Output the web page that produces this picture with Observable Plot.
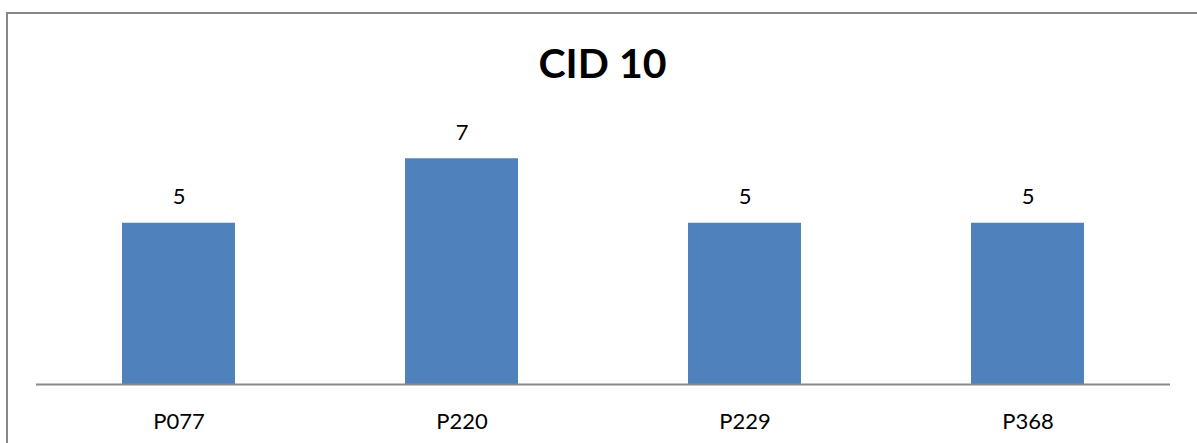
<!DOCTYPE html>
<html>
<head>
<meta charset="utf-8">
<script src="https://cdn.jsdelivr.net/npm/d3@7"></script>
<script src="https://cdn.jsdelivr.net/npm/@observablehq/plot@0.6"></script>
<style>
  html, body { margin: 0; padding: 0; background: #fff; overflow: hidden; width: 1197px; height: 443px; }
  #wrap { position: relative; width: 1197px; height: 443px; }
  #border { position: absolute; left: 6px; top: 12px; width: 1300px; height: 600px;
            border-left: 2px solid #878787; border-top: 2px solid #878787; }
  #title { position: absolute; left: 4px; top: 42px; width: 1197px; text-align: center;
           font-family: Lato, sans-serif; font-weight: bold; font-size: 41px; line-height: 1; color: #000; }
  #chart { position: absolute; left: 0; top: 100px; }
</style>
</head>
<body>
<div id="wrap">
  <div id="border"></div>
  <div id="title">CID 10</div>
  <div id="chart"></div>
</div>
<script>
const categories = ["P077", "P220", "P229", "P368"];
const values = [5, 7, 5, 5];

const data = categories.map((c, i) => ({category: c, value: values[i]}));

const chart = Plot.plot({
  width: 1197,
  height: 343,
  marginLeft: 36,
  marginRight: 27,
  marginTop: 26,
  marginBottom: 59,
  style: {fontFamily: "Lato, sans-serif", fontSize: "22px", color: "#000", background: "transparent"},
  x: {domain: categories, padding: 0.6, paddingOuter: 0.3, label: null},
  y: {domain: [0, 8], axis: null},
  marks: [
    Plot.barY(data, {x: "category", y: "value", fill: "#4F81BD"}),
    Plot.ruleY([0], {stroke: "#898989", strokeWidth: 2}),
    Plot.text(data, {x: "category", y: "value", text: d => String(d.value), dy: -26, fill: "#000", fontSize: 22}),
    Plot.axisX({tickSize: 0, tickPadding: 29, fontSize: 22, label: null})
  ]
});
document.getElementById("chart").appendChild(chart);
</script>
</body>
</html>
